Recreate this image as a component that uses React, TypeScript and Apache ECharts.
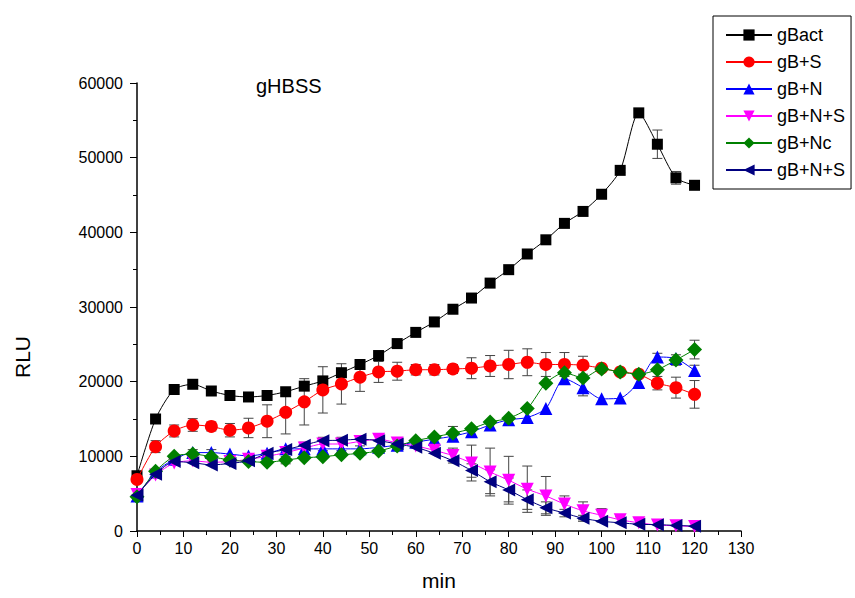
import React, { useEffect, useRef } from "react";
import * as echarts from "echarts";

const TIMES = [0, 4, 8, 12, 16, 20, 24, 28, 32, 36, 40, 44, 48, 52, 56, 60, 64, 68, 72, 76, 80, 84, 88, 92, 96, 100, 104, 108, 112, 116, 120];

const gBact = [7400, 15000, 18950, 19650, 18750, 18150, 17950, 18150, 18650, 19400, 20100, 21200, 22300, 23500, 25100, 26600, 28000, 29700, 31200, 33200, 35000, 37100, 39000, 41200, 42800, 45100, 48300, 56000, 51800, 47300, 46300];
const gBactErr = [0, 0, 0, 0, 0, 0, 0, 0, 0, 500, 600, 0, 0, 0, 0, 0, 0, 0, 0, 0, 0, 0, 0, 0, 0, 0, 300, 0, 1900, 850, 0];

const gBS = [6900, 11300, 13400, 14200, 14000, 13500, 13800, 14700, 15900, 17300, 18900, 19700, 20600, 21300, 21400, 21600, 21600, 21700, 21800, 22100, 22300, 22600, 22300, 22300, 22200, 21800, 21300, 21000, 19800, 19200, 18300];
const gBSErr = [0, 800, 800, 850, 600, 900, 1300, 2200, 2900, 3100, 3100, 2700, 1900, 1400, 1200, 700, 700, 600, 1400, 1400, 1900, 1800, 1600, 1600, 1200, 0, 0, 0, 900, 1400, 1850];

const gBN = [4700, 7900, 9600, 10500, 10500, 10300, 10050, 10400, 11000, 11000, 11000, 11000, 11000, 11200, 11500, 11900, 12300, 12700, 13300, 14200, 14900, 15200, 16400, 20400, 19200, 17700, 17800, 19900, 23300, 23100, 21500];
const gBNErr = [0, 0, 0, 400, 400, 0, 0, 0, 0, 0, 0, 0, 0, 0, 0, 0, 0, 0, 0, 0, 0, 0, 0, 0, 1100, 0, 0, 0, 500, 0, 700];

const gBNS = [4900, 7500, 9100, 9400, 9200, 9300, 9600, 10000, 10500, 11100, 11650, 11650, 12000, 12300, 11800, 11400, 10800, 10100, 9100, 7900, 6800, 5600, 4700, 3600, 2700, 2100, 1500, 1100, 800, 700, 600];
const gBNSErr = [0, 0, 0, 0, 0, 0, 0, 0, 0, 800, 900, 900, 600, 0, 0, 0, 0, 1000, 2400, 3200, 3200, 3100, 2600, 1100, 1200, 900, 400, 0, 0, 0, 0];

const gBNc = [4600, 8000, 10000, 10300, 9950, 9500, 9300, 9200, 9500, 9800, 9950, 10200, 10400, 10700, 11400, 12100, 12600, 13100, 13700, 14600, 15100, 16400, 19800, 21200, 20500, 21700, 21300, 21000, 21600, 22900, 24300];
const gBNcErr = [0, 0, 0, 0, 0, 0, 0, 0, 500, 0, 0, 0, 0, 0, 0, 0, 0, 900, 0, 0, 0, 0, 0, 0, 0, 0, 0, 0, 0, 700, 1250];

const gBNS2 = [4800, 7600, 9300, 9150, 8850, 9050, 9400, 10400, 10900, 11500, 12100, 12150, 12300, 12100, 11650, 11200, 10400, 9400, 8100, 6600, 5500, 4200, 3100, 2400, 1700, 1300, 1100, 900, 850, 750, 650];
const gBNS2Err = [0, 0, 0, 0, 0, 0, 0, 0, 0, 0, 0, 0, 0, 0, 0, 0, 0, 0, 900, 1600, 1600, 1300, 800, 500, 400, 0, 0, 0, 0, 0, 0];

const SERIES_NAMES = ["gBact", "gB+S", "gB+N", "gB+N+S", "gB+Nc", "gB+N+S (2)"];
const Y_TICKS_MAX = 60000;
const X_TICKS_MAX = 130;

const FONT = "Arial, 'Liberation Sans', sans-serif";

export default function App() {
  const ref = useRef<HTMLDivElement>(null);
  useEffect(() => {
    if (!ref.current) return;
    const chart = echarts.init(ref.current, null, { renderer: "svg" });
    const defs = [
      { name: SERIES_NAMES[0], v: gBact, e: gBactErr, color: "#000000", symbol: "rect", size: 11, rot: 0 },
      { name: SERIES_NAMES[1], v: gBS, e: gBSErr, color: "#ff0000", symbol: "circle", size: 13, rot: 0 },
      { name: SERIES_NAMES[2], v: gBN, e: gBNErr, color: "#0000ff", symbol: "triangle", size: 13, rot: 0 },
      { name: SERIES_NAMES[3], v: gBNS, e: gBNSErr, color: "#ff00ff", symbol: "triangle", size: 13, rot: 180 },
      { name: SERIES_NAMES[4], v: gBNc, e: gBNcErr, color: "#008000", symbol: "diamond", size: 15, rot: 0 },
      { name: SERIES_NAMES[5], v: gBNS2, e: gBNS2Err, color: "#000080", symbol: "triangle", size: 13, rot: 90 },
    ];
    const series: any[] = [];
    defs.forEach((d, i) => {
      const errData = TIMES.map((t, k) => [t, d.v[k] - d.e[k], d.v[k] + d.e[k], d.e[k]]).filter((r) => r[3] > 0);
      series.push({
        type: "custom",
        id: "err" + i,
        z: 1,
        silent: true,
        encode: { x: 0, y: [1, 2] },
        data: errData,
        renderItem: (params: any, api: any) => {
          const x = api.value(0);
          const p1 = api.coord([x, api.value(1)]);
          const p2 = api.coord([x, api.value(2)]);
          const style = { stroke: "#444444", lineWidth: 1 };
          return {
            type: "group",
            children: [
              { type: "line", shape: { x1: p1[0], y1: p1[1], x2: p2[0], y2: p2[1] }, style },
              { type: "line", shape: { x1: p1[0] - 5, y1: p1[1], x2: p1[0] + 5, y2: p1[1] }, style },
              { type: "line", shape: { x1: p2[0] - 5, y1: p2[1], x2: p2[0] + 5, y2: p2[1] }, style },
            ],
          };
        },
      });
    });
    defs.forEach((d, i) => {
      series.push({
        type: "line",
        name: d.name,
        z: 2 + i,
        data: TIMES.map((t, k) => [t, d.v[k]]),
        smooth: 0.25,
        symbol: d.symbol,
        symbolSize: d.size,
        symbolRotate: d.rot,
        showSymbol: true,
        itemStyle: { color: d.color },
        lineStyle: { color: d.color, width: 1 },
      });
    });
    chart.setOption({
      animation: false,
      backgroundColor: "#ffffff",
      title: {
        text: "gHBSS",
        left: 251,
        top: 71,
        textStyle: { fontSize: 20, fontWeight: "normal", color: "#000", fontFamily: FONT },
      },
      graphic: [
        {
          type: "text",
          x: 22,
          y: 357,
          rotation: Math.PI / 2,
          style: { text: "RLU", fontSize: 21, fill: "#000", fontFamily: FONT, align: "center", verticalAlign: "middle" },
        },
      ],
      legend: {
        orient: "vertical",
        left: 713,
        top: 16,
        borderColor: "#000",
        borderWidth: 1,
        padding: [10, 6, 10, 12],
        itemWidth: 46,
        itemHeight: 14,
        itemGap: 9,
        textStyle: { fontSize: 18, color: "#000", fontFamily: FONT },
        data: SERIES_NAMES,
        formatter: (name: string) => (name === "gB+N+S (2)" ? "gB+N+S" : name),
      },
      grid: { left: 137, right: 114, top: 83, bottom: 67, containLabel: false },
      xAxis: {
        type: "value",
        min: 0,
        max: X_TICKS_MAX,
        interval: 10,
        name: "min",
        nameLocation: "middle",
        nameGap: 39,
        nameTextStyle: { fontSize: 21, color: "#000", fontFamily: FONT },
        axisLine: { show: true, lineStyle: { color: "#000", width: 1.5 } },
        axisTick: { show: true, inside: false, length: 6, lineStyle: { color: "#000" } },
        minorTick: { show: true, splitNumber: 2, length: 4, lineStyle: { color: "#000" } },
        axisLabel: { fontSize: 16, color: "#000", fontFamily: FONT, margin: 9 },
        splitLine: { show: false },
      },
      yAxis: {
        type: "value",
        min: 0,
        max: Y_TICKS_MAX,
        interval: 10000,
        axisLine: { show: true, lineStyle: { color: "#000", width: 1.5 } },
        axisTick: { show: true, inside: false, length: 7, lineStyle: { color: "#000" } },
        minorTick: { show: true, splitNumber: 2, length: 4, lineStyle: { color: "#000" } },
        axisLabel: { fontSize: 16, color: "#000", fontFamily: FONT, margin: 14, formatter: (v: number) => String(v) },
        splitLine: { show: false },
      },
      series,
    });
    return () => chart.dispose();
  }, []);
  return <div ref={ref} style={{ position: "fixed", left: 0, top: 0, width: 855, height: 598 }} />;
}
